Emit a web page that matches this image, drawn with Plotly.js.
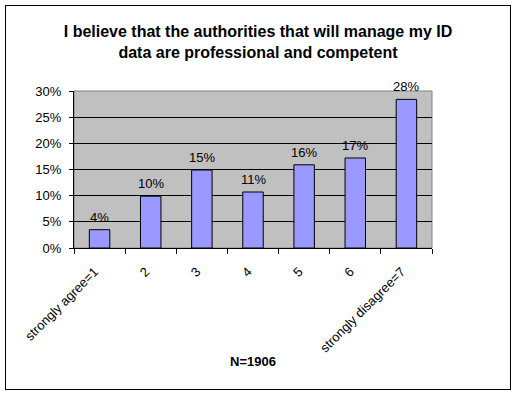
<!DOCTYPE html>
<html>
<head>
<meta charset="utf-8">
<script src="https://cdn.plot.ly/plotly-3.0.1.min.js"></script>
<style>
html,body{margin:0;padding:0;background:#fff;}
#wrap{position:relative;width:516px;height:394px;}
#chart{position:absolute;left:0;top:0;width:516px;height:394px;}
#frame{position:absolute;left:5px;top:5px;width:504px;height:383px;border:1px solid #000;pointer-events:none;}
</style>
</head>
<body>
<div id="wrap"><div id="chart"></div><div id="frame"></div></div>
<script>
const categories = ["strongly agree=1", "2", "3", "4", "5", "6", "strongly disagree=7"];
const values = [0.035, 0.099, 0.149, 0.107, 0.159, 0.172, 0.284];
const valueLabels = ["4%", "10%", "15%", "11%", "16%", "17%", "28%"];
const yTickVals = [0, 0.05, 0.10, 0.15, 0.20, 0.25, 0.30];
const yTickText = ["0%", "5%", "10%", "15%", "20%", "25%", "30%"];
const chartTitle = "I believe that the authorities that will manage my ID<br>data are professional and competent";
const xTitle = "N=1906";

const font = "Arial, 'Liberation Sans', sans-serif";

const labelAnnotations = categories.map((c, i) => ({
  x: i, y: values[i], xref: "x", yref: "y",
  text: valueLabels[i], showarrow: false,
  yanchor: "bottom", xanchor: "center", yshift: 3,
  font: {family: font, size: 13, color: "#000"}
}));

Plotly.newPlot("chart", [{
  type: "bar",
  x: categories,
  y: values,
  marker: {color: "#9999FF", line: {color: "#000", width: 1}},
  hoverinfo: "none"
}], {
  width: 516, height: 394,
  margin: {l: 74, r: 84, t: 91, b: 146},
  paper_bgcolor: "rgba(0,0,0,0)",
  plot_bgcolor: "#C0C0C0",
  bargap: 0.6,
  showlegend: false,
  title: {text: chartTitle, font: {family: font, size: 16, color: "#000", weight: "bold"}, x: 0.5, xanchor: "center", y: 0.905, yanchor: "middle"},
  annotations: labelAnnotations,
  xaxis: {
    type: "category",
    tickangle: -45,
    tickson: "boundaries",
    ticks: "outside", ticklen: 5, tickcolor: "#000",
    ticklabelstandoff: 10,
    ticklabelshift: -5,
    showline: true, linecolor: "#000", linewidth: 1,
    showgrid: false,
    tickfont: {family: font, size: 13, color: "#000"},
    title: {text: xTitle, font: {family: font, size: 13, color: "#000", weight: "bold"}, standoff: 2}
  },
  yaxis: {
    range: [0, 0.30],
    tickvals: yTickVals,
    ticktext: yTickText,
    ticks: "outside", ticklen: 4, tickcolor: "#000",
    ticklabelstandoff: 5,
    showline: true, linecolor: "#000", linewidth: 1,
    showgrid: true, gridcolor: "#000", gridwidth: 1,
    zeroline: false,
    tickfont: {family: font, size: 13, color: "#000"}
  },
  shapes: [{type: "rect", xref: "paper", yref: "paper", x0: 0, x1: 1, y0: 0, y1: 1, line: {color: "#808080", width: 1}, layer: "below"}]
}, {displayModeBar: false, staticPlot: true});
</script>
</body>
</html>
